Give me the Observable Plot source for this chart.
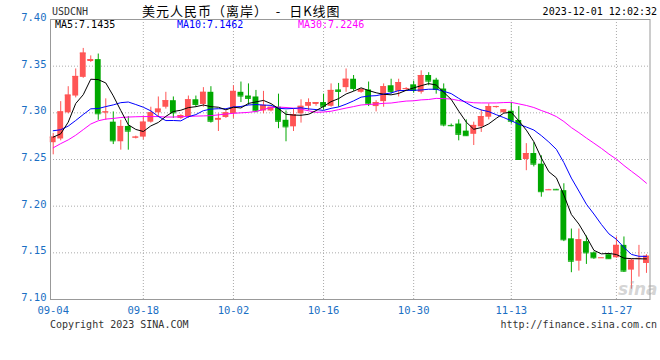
<!DOCTYPE html>
<html><head><meta charset="utf-8">
<script src="https://cdn.jsdelivr.net/npm/d3@7"></script>
<script src="https://cdn.jsdelivr.net/npm/@observablehq/plot@0.6"></script>
<style>
body{margin:0;background:#fff;}
#wrap{position:relative;width:660px;height:360px;overflow:hidden;background:#fff;font-family:"DejaVu Sans Mono",monospace;}
#chart{position:absolute;left:0;top:0;}
.t{position:absolute;white-space:pre;line-height:1;}
</style></head><body>
<div id="wrap">
<div id="chart"></div>
<div class="t" style="left:52px;top:7px;font-size:10px;color:#333">USDCNH</div>
<div class="t" style="left:142px;top:4px;font-size:13px;letter-spacing:1px;font-family:'Noto Sans CJK SC';color:#000">美元人民币（离岸）  -  日K线图</div>
<div class="t" style="right:3px;top:7px;font-size:10px;color:#000">2023-12-01 12:02:32</div>
<div class="t" id="ma5t" style="left:55px;top:20px;font-size:10px;color:#000"></div>
<div class="t" id="ma10t" style="left:177px;top:20px;font-size:10px;color:#0000ff"></div>
<div class="t" id="ma30t" style="left:298px;top:20px;font-size:10px;color:#ff00ff"></div>
<div class="t" style="left:618px;top:281px;font-size:17px;font-weight:bold;font-style:italic;font-family:'DejaVu Sans';color:rgba(160,160,160,0.45)">sina</div>
<div class="t" style="left:50px;top:320px;font-size:10px;color:#333">Copyright 2023 SINA.COM</div>
<div class="t" style="right:3px;top:320px;font-size:10px;color:#333">http://finance.sina.com.cn</div>
</div>
<script>
const dates = [
"09-04","09-05","09-06","09-07","09-08","09-09",
"09-11","09-12","09-13","09-14","09-15","09-16",
"09-18","09-19","09-20","09-21","09-22","09-23",
"09-25","09-26","09-27","09-28","09-29","09-30",
"10-02","10-03","10-04","10-05","10-06","10-07",
"10-09","10-10","10-11","10-12","10-13","10-14",
"10-16","10-17","10-18","10-19","10-20","10-21",
"10-23","10-24","10-25","10-26","10-27","10-28",
"10-30","10-31","11-01","11-02","11-03","11-04",
"11-06","11-07","11-08","11-09","11-10","11-11",
"11-12","11-13","11-14","11-15","11-16","11-17","11-18","11-19",
"11-20","11-21","11-22","11-23","11-24","11-25","11-26",
"11-27","11-28","11-29","11-30","12-01"];
const open = [
7.268,7.272,7.300,7.318,7.338,7.355,
7.357,7.300,7.290,7.269,7.2854,7.273,
7.274,7.290,7.300,7.306,7.313,7.294,
7.296,7.314,7.309,7.322,7.292,7.295,
7.299,7.322,7.318,7.317,7.302,7.302,
7.306,7.292,7.285,7.299,7.307,7.309,
7.311,7.307,7.3245,7.327,7.336,7.322,
7.3245,7.3067,7.312,7.329,7.323,7.325,
7.330,7.322,7.340,7.335,7.3255,7.2865,
7.288,7.2804,7.277,7.285,7.2953,7.306,
7.300,7.3017,7.2918,7.250,7.2564,7.245,7.217,7.218,
7.2166,7.165,7.141,7.162,7.150,7.1445,7.148,
7.1447,7.158,7.1315,7.1435,7.1386];
const high = [
7.278,7.312,7.328,7.347,7.369,7.361,
7.363,7.315,7.301,7.292,7.296,7.275,
7.296,7.306,7.317,7.322,7.317,7.298,
7.318,7.318,7.327,7.328,7.299,7.302,
7.329,7.333,7.331,7.324,7.323,7.306,
7.320,7.302,7.304,7.314,7.315,7.311,
7.320,7.331,7.3315,7.347,7.340,7.326,
7.333,7.313,7.331,7.336,7.336,7.327,
7.334,7.345,7.343,7.337,7.331,7.288,
7.2925,7.2925,7.290,7.303,7.3096,7.307,
7.3035,7.3113,7.3067,7.267,7.268,7.254,7.218,7.218,
7.224,7.1755,7.1755,7.168,7.151,7.1447,7.149,
7.167,7.167,7.143,7.158,7.148];
const low = [
7.255,7.270,7.299,7.316,7.337,7.354,
7.292,7.292,7.266,7.260,7.260,7.272,
7.271,7.289,7.295,7.304,7.294,7.293,
7.294,7.306,7.306,7.289,7.280,7.294,
7.294,7.311,7.308,7.300,7.299,7.301,
7.283,7.269,7.280,7.289,7.302,7.307,
7.303,7.306,7.306,7.322,7.323,7.321,
7.3067,7.301,7.306,7.320,7.317,7.324,
7.321,7.320,7.329,7.320,7.285,7.285,
7.270,7.2748,7.265,7.279,7.2925,7.305,
7.2995,7.288,7.2493,7.238,7.242,7.2096,7.217,7.2172,
7.162,7.1287,7.1304,7.1376,7.143,7.1445,7.143,
7.144,7.129,7.111,7.124,7.128];
const close = [
7.274,7.301,7.319,7.339,7.364,7.357,
7.299,7.301,7.270,7.2854,7.2804,7.274,
7.290,7.300,7.304,7.313,7.300,7.297,
7.314,7.309,7.322,7.291,7.294,7.300,
7.323,7.318,7.3155,7.302,7.308,7.306,
7.291,7.285,7.298,7.307,7.311,7.311,
7.307,7.324,7.323,7.336,7.326,7.325,
7.3095,7.311,7.328,7.323,7.3325,7.326,
7.324,7.340,7.334,7.325,7.287,7.2862,
7.277,7.2755,7.2865,7.296,7.3067,7.3067,
7.3032,7.291,7.250,7.2564,7.245,7.2155,7.2175,7.2175,
7.164,7.141,7.164,7.150,7.1447,7.1447,7.1437,
7.158,7.1304,7.142,7.144,7.1464];
const ma5 = [
7.2740,7.2775,7.2900,7.3100,7.3194,7.3360,
7.3356,7.3320,7.3182,7.3025,7.2872,7.2822,
7.2800,7.2860,7.2897,7.2962,7.3014,7.3028,
7.3056,7.3066,7.3084,7.3066,7.3060,7.3032,
7.3060,7.3052,7.3101,7.3117,7.3133,7.3099,
7.3045,7.2984,7.2976,7.2974,7.2984,7.3024,
7.3068,7.3120,7.3152,7.3202,7.3232,7.3268,
7.3239,7.3215,7.3199,7.3193,7.3208,7.3241,
7.3267,7.3291,7.3313,7.3298,7.3220,7.3144,
7.3018,7.2901,7.2824,7.2842,7.2882,7.2941,
7.2997,7.3006,7.2914,7.2815,7.2691,7.2516,7.2369,7.2304,
7.2119,7.1911,7.1808,7.1673,7.1527,7.1489,7.1494,
7.1482,7.1443,7.1438,7.1436,7.1435];
const ma10 = [
7.2808,7.2819,7.2858,7.2918,7.2982,7.3043,
7.3046,7.3067,7.3085,7.3109,7.3116,7.3089,
7.3060,7.3021,7.2961,7.2917,7.2918,7.2914,
7.2958,7.2981,7.3023,7.3040,7.3044,7.3044,
7.3063,7.3068,7.3084,7.3089,7.3083,7.3080,
7.3049,7.3043,7.3047,7.3054,7.3042,7.3035,
7.3026,7.3048,7.3063,7.3093,7.3128,7.3168,
7.3180,7.3184,7.3201,7.3213,7.3238,7.3240,
7.3241,7.3245,7.3253,7.3253,7.3231,7.3206,
7.3155,7.3107,7.3061,7.3031,7.3013,7.2980,
7.2949,7.2915,7.2878,7.2848,7.2816,7.2756,7.2687,7.2609,
7.2467,7.2301,7.2162,7.2021,7.1916,7.1804,7.1703,
7.1645,7.1558,7.1483,7.1463,7.1462];
const ma30 = [
7.2625,7.2670,7.2710,7.2760,7.2820,7.2880,
7.2915,7.2933,7.2940,7.2950,7.2955,7.2958,
7.2960,7.2960,7.2960,7.2955,7.2955,7.2958,
7.2962,7.2965,7.2967,7.2970,7.2978,7.2987,
7.2995,7.3000,7.3005,7.3015,7.3035,7.3057,
7.3062,7.3057,7.3050,7.3039,7.3022,7.3006,
7.3009,7.3017,7.3034,7.3051,7.3067,7.3084,
7.3090,7.3094,7.3102,7.3105,7.3116,7.3126,
7.3129,7.3139,7.3143,7.3155,7.3152,7.3148,
7.3132,7.3118,7.3108,7.3106,7.3106,7.3106,
7.3110,7.3112,7.3096,7.3079,7.3057,7.3025,7.2996,7.2960,
7.2907,7.2842,7.2788,7.2730,7.2675,7.2619,7.2558,
7.2503,7.2436,7.2374,7.2314,7.2246];
const tickDates = ["09-04","09-18","10-02","10-16","10-30","11-13","11-27"];
const yTicks = [7.10,7.15,7.20,7.25,7.30,7.35,7.40];

const RED = "#ff5555", GREEN = "#00a800", AXIS = "#1a6fc4", GRID = "#aaaaaa";
const bars = dates.map((d, i) => ({i, date: d, open: open[i], high: high[i], low: low[i], close: close[i],
  color: close[i] >= open[i] ? RED : GREEN}));
const toPts = arr => arr.map((v, i) => ({i, v}));
const tickIdx = tickDates.map(d => dates.indexOf(d));
const half = 0.39;

const chart = Plot.plot({
  width: 660, height: 360,
  marginLeft: 50, marginRight: 10.5, marginTop: 19, marginBottom: 61,
  x: {type: "linear", domain: [-0.36, dates.length - 0.53], label: null},
  y: {domain: [7.10, 7.40], label: null},
  color: {type: "identity"},
  style: {fontFamily: "DejaVu Sans Mono", background: "transparent", overflow: "visible"},
  marks: [
    Plot.ruleY(yTicks.slice(1, -1), {stroke: GRID, strokeDasharray: "1,2"}),
    Plot.ruleX(tickIdx.slice(1), {stroke: GRID, strokeDasharray: "1,2"}),
    Plot.ruleX(bars, {x: "i", y1: "low", y2: "high", stroke: "color"}),
    Plot.rect(bars, {x1: d => d.i - half, x2: d => d.i + half, y1: "open", y2: "close", fill: "color"}),
    Plot.ruleY(bars, {y: "close", x1: d => d.i - half, x2: d => d.i + half, stroke: "color"}),
    Plot.line(toPts(ma30), {x: "i", y: "v", stroke: "#ff00ff", strokeWidth: 1}),
    Plot.line(toPts(ma10), {x: "i", y: "v", stroke: "#0000ff", strokeWidth: 1}),
    Plot.line(toPts(ma5), {x: "i", y: "v", stroke: "#000000", strokeWidth: 1}),
    Plot.frame({stroke: "#999999"}),
    Plot.axisY(yTicks, {label: null, tickSize: 0, tickPadding: 4, tickFormat: d => d.toFixed(2), fill: AXIS, fontSize: 10.5, dy: -2}),
    Plot.axisX(tickIdx, {label: null, tickSize: 0, tickPadding: 7, tickFormat: i => dates[i], fill: AXIS, fontSize: 10.5})
  ]
});
document.getElementById("chart").appendChild(chart);
document.getElementById("ma5t").textContent = "MA5:" + ma5[ma5.length - 1].toFixed(4);
document.getElementById("ma10t").textContent = "MA10:" + ma10[ma10.length - 1].toFixed(4);
document.getElementById("ma30t").textContent = "MA30:" + ma30[ma30.length - 1].toFixed(4);
</script>
</body></html>
